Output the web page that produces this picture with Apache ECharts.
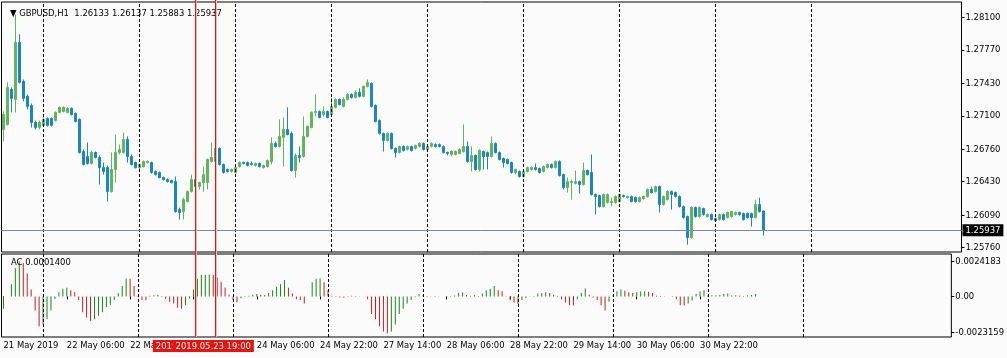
<!DOCTYPE html>
<html><head><meta charset="utf-8">
<script src="https://cdn.jsdelivr.net/npm/echarts@6/dist/echarts.min.js"></script>
<style>html,body{margin:0;padding:0;background:#fbfbfb;}#c{width:1007px;height:358px;}</style>
</head><body><div id="c"></div>
<script>
// ---------- data ----------
const symbolName = 'GBPUSD,H1';
const openPrices = [1.26961,1.27012,1.27368,1.27266,1.27846,1.27449,1.27297,1.27205,1.27032,1.26981,
1.27002,1.27073,1.27073,1.27052,1.27134,1.27144,1.27134,1.27175,1.27124,1.27063,
1.26737,1.26686,1.26615,1.26727,1.26676,1.26574,1.26574,1.26330,1.26554,1.26727,
1.26727,1.26859,1.26686,1.26625,1.26574,1.26585,1.26625,1.26625,1.26534,1.26524,
1.26473,1.26452,1.26442,1.26432,1.26147,1.26127,1.26229,1.26330,1.26452,1.26381,
1.26422,1.26422,1.26635,1.26635,1.26768,1.26605,1.26554,1.26534,1.26524,1.26585,
1.26625,1.26625,1.26615,1.26595,1.26615,1.26574,1.26585,1.26635,1.26819,1.26788,
1.26880,1.26961,1.26920,1.26544,1.26697,1.26686,1.26890,1.26981,1.27134,1.27144,
1.27113,1.27144,1.27113,1.27185,1.27266,1.27195,1.27266,1.27317,1.27286,1.27337,
1.27297,1.27398,1.27429,1.27205,1.27052,1.26920,1.26849,1.26920,1.26768,1.26727,
1.26788,1.26758,1.26788,1.26768,1.26788,1.26819,1.26758,1.26788,1.26808,1.26808,
1.26788,1.26727,1.26707,1.26707,1.26717,1.26737,1.26788,1.26635,1.26697,1.26554,
1.26737,1.26727,1.26686,1.26819,1.26727,1.26666,1.26656,1.26625,1.26524,1.26534,
1.26483,1.26534,1.26554,1.26574,1.26564,1.26534,1.26574,1.26605,1.26574,1.26635,
1.26503,1.26371,1.26422,1.26412,1.26432,1.26402,1.26544,1.26524,1.26300,1.26290,
1.26178,1.26219,1.26219,1.26219,1.26229,1.26290,1.26269,1.26280,1.26269,1.26229,
1.26259,1.26280,1.26351,1.26330,1.26381,1.26198,1.26249,1.26330,1.26320,1.26280,
1.26178,1.26076,1.25863,1.26168,1.26076,1.26158,1.26076,1.26097,1.26056,1.26046,
1.26097,1.26066,1.26076,1.26097,1.26117,1.26107,1.26107,1.26107,1.26066,1.26198,
1.26133];
const closePrices = [1.27113,1.27388,1.27276,1.27846,1.27439,1.27276,1.27195,1.27032,1.26981,1.27032,
1.27063,1.27002,1.27002,1.27134,1.27185,1.27185,1.27175,1.27113,1.27042,1.26727,
1.26605,1.26615,1.26727,1.26676,1.26574,1.26534,1.26330,1.26554,1.26727,1.26758,
1.26859,1.26686,1.26605,1.26574,1.26605,1.26635,1.26635,1.26524,1.26503,1.26473,
1.26452,1.26432,1.26422,1.26127,1.26117,1.26249,1.26330,1.26452,1.26381,1.26422,
1.26503,1.26656,1.26676,1.26768,1.26605,1.26524,1.26534,1.26554,1.26574,1.26625,
1.26615,1.26595,1.26605,1.26615,1.26585,1.26595,1.26646,1.26819,1.26788,1.26890,
1.26961,1.26910,1.26544,1.26697,1.26676,1.26890,1.26991,1.27134,1.27144,1.27083,
1.27144,1.27083,1.27195,1.27266,1.27215,1.27266,1.27317,1.27286,1.27337,1.27297,
1.27398,1.27439,1.27195,1.27042,1.26920,1.26849,1.26920,1.26768,1.26727,1.26788,
1.26747,1.26788,1.26747,1.26798,1.26819,1.26758,1.26788,1.26819,1.26788,1.26788,
1.26727,1.26717,1.26737,1.26737,1.26758,1.26788,1.26635,1.26697,1.26554,1.26747,
1.26686,1.26686,1.26819,1.26727,1.26656,1.26625,1.26615,1.26524,1.26554,1.26483,
1.26534,1.26574,1.26574,1.26554,1.26524,1.26585,1.26605,1.26574,1.26635,1.26493,
1.26371,1.26432,1.26432,1.26432,1.26402,1.26544,1.26503,1.26300,1.26280,1.26178,
1.26300,1.26300,1.26229,1.26280,1.26300,1.26280,1.26280,1.26229,1.26229,1.26269,
1.26280,1.26351,1.26320,1.26381,1.26198,1.26280,1.26330,1.26300,1.26280,1.26178,
1.26066,1.25863,1.26168,1.26076,1.26168,1.26097,1.26097,1.26046,1.26035,1.26097,
1.26046,1.26117,1.26127,1.26117,1.26097,1.26046,1.26066,1.26066,1.26198,1.26127,
1.25937];
const lowPrices = [1.26839,1.27002,1.27134,1.27134,1.27429,1.27246,1.27164,1.26981,1.26961,1.26961,
1.26991,1.26991,1.26991,1.27042,1.27124,1.27134,1.27124,1.27103,1.27032,1.26717,
1.26595,1.26605,1.26605,1.26666,1.26402,1.26503,1.26229,1.26320,1.26422,1.26707,
1.26717,1.26625,1.26595,1.26564,1.26554,1.26574,1.26615,1.26513,1.26493,1.26463,
1.26442,1.26422,1.26412,1.26117,1.26046,1.26046,1.26219,1.26320,1.26371,1.26351,
1.26330,1.26351,1.26625,1.26625,1.26595,1.26513,1.26524,1.26524,1.26513,1.26574,
1.26605,1.26585,1.26595,1.26585,1.26574,1.26564,1.26574,1.26605,1.26778,1.26778,
1.26585,1.26900,1.26534,1.26473,1.26625,1.26676,1.26880,1.26971,1.27093,1.27073,
1.27093,1.27073,1.27103,1.27175,1.27205,1.27185,1.27256,1.27276,1.27276,1.27286,
1.27286,1.27388,1.27185,1.27032,1.26910,1.26737,1.26839,1.26758,1.26676,1.26717,
1.26737,1.26747,1.26737,1.26758,1.26778,1.26747,1.26747,1.26778,1.26778,1.26778,
1.26717,1.26697,1.26686,1.26697,1.26707,1.26727,1.26625,1.26534,1.26544,1.26534,
1.26554,1.26554,1.26676,1.26717,1.26646,1.26574,1.26605,1.26513,1.26503,1.26473,
1.26473,1.26524,1.26544,1.26544,1.26513,1.26524,1.26564,1.26564,1.26564,1.26483,
1.26351,1.26320,1.26249,1.26402,1.26310,1.26391,1.26493,1.26290,1.26097,1.26168,
1.26168,1.26208,1.26178,1.26208,1.26219,1.26269,1.26259,1.26219,1.26219,1.26219,
1.26249,1.26269,1.26310,1.26320,1.26117,1.26188,1.26239,1.26147,1.26269,1.26168,
1.26056,1.25791,1.25852,1.26066,1.26066,1.26086,1.26066,1.26035,1.26025,1.26035,
1.26035,1.26056,1.26066,1.26086,1.26086,1.26035,1.26056,1.25974,1.26056,1.26117,
1.25883];
const highPrices = [1.27144,1.27439,1.27388,1.28130,1.27927,1.27469,1.27317,1.27225,1.27052,1.27052,
1.27083,1.27083,1.27083,1.27144,1.27195,1.27195,1.27185,1.27185,1.27134,1.27073,
1.26758,1.26829,1.26747,1.26737,1.26697,1.26625,1.26595,1.26727,1.26910,1.26808,
1.26930,1.26890,1.26707,1.26635,1.26615,1.26646,1.26646,1.26635,1.26544,1.26534,
1.26483,1.26463,1.26452,1.26483,1.26168,1.26269,1.26341,1.26503,1.26463,1.26432,
1.26585,1.26666,1.26829,1.26788,1.26778,1.26615,1.26564,1.26564,1.26585,1.26635,
1.26635,1.26635,1.26635,1.26625,1.26625,1.26605,1.26656,1.26880,1.26839,1.27063,
1.27083,1.27185,1.26941,1.26717,1.26788,1.27093,1.27002,1.27144,1.27317,1.27154,
1.27195,1.27154,1.27286,1.27276,1.27276,1.27286,1.27327,1.27327,1.27358,1.27378,
1.27408,1.27469,1.27439,1.27215,1.27063,1.26930,1.26930,1.26930,1.26778,1.26798,
1.26798,1.26798,1.26798,1.26808,1.26829,1.26829,1.26798,1.26829,1.26819,1.26819,
1.26798,1.26737,1.26747,1.26747,1.26768,1.27012,1.26839,1.26788,1.26707,1.26758,
1.26747,1.26737,1.26890,1.26829,1.26737,1.26676,1.26666,1.26635,1.26564,1.26544,
1.26554,1.26585,1.26585,1.26615,1.26574,1.26595,1.26615,1.26615,1.26646,1.26646,
1.26513,1.26473,1.26452,1.26544,1.26442,1.26625,1.26554,1.26707,1.26310,1.26300,
1.26310,1.26310,1.26269,1.26290,1.26310,1.26300,1.26290,1.26290,1.26280,1.26280,
1.26290,1.26361,1.26381,1.26391,1.26391,1.26290,1.26341,1.26341,1.26330,1.26290,
1.26188,1.26086,1.26178,1.26178,1.26178,1.26168,1.26107,1.26107,1.26066,1.26107,
1.26107,1.26127,1.26137,1.26127,1.26127,1.26117,1.26117,1.26117,1.26249,1.26269,
1.26137];
const acValues = [-0.0007,0.0000,0.0007,0.0016,0.0020,0.0019,0.0013,0.0004,-0.0008,-0.0017,
-0.0016,-0.0013,-0.0008,-0.00015,0.00024,0.00043,0.0005,0.00035,0.00024,-0.0002,
-0.0009,-0.0012,-0.0014,-0.0013,-0.0011,-0.0009,-0.0006,-0.0005,-0.0002,0.0002,
0.0006,0.00102,0.0010,0.0006,-0.00005,-0.0002,-0.00022,0.00003,0.00006,0.0001,
0.00002,-0.00015,-0.0003,-0.0004,-0.00065,-0.0007,-0.0005,-0.0001,0.0004,0.0010,
0.00123,0.00124,0.00125,0.00122,0.00108,0.00084,0.00051,0.0001,-0.0002,-0.00034,
-0.0001,-0.00003,0.00004,0.0001,0.00014,0.0001,0.00008,0.0002,0.00035,0.00055,
0.0007,0.00093,0.0005,0.00016,-0.00016,-0.0002,-0.0004,0.0000,0.0008,0.0010,
0.00102,0.0008,0.00035,0.00003,-0.00004,-0.00006,-0.00008,-0.00004,0.00004,0.00002,
0.00001,0.0000,-0.00016,-0.0010,-0.0013,-0.0017,-0.0020,-0.0021,-0.0020,-0.0016,
-0.0010,-0.0007,-0.0004,-0.0002,-0.00005,0.00014,0.00005,0.00002,0.00001,0.00002,
0.00001,0.0000,0.00001,-0.00003,0.00005,0.0002,0.00022,0.00008,0.00004,0.00006,
0.00002,0.00016,0.00035,0.00043,0.0006,0.00035,0.0003,0.00001,-0.0002,-0.00035,
-0.00045,-0.0002,-0.0001,-0.00002,-0.00004,0.00016,0.0002,0.00024,0.0002,0.0001,
-0.00003,-0.00016,-0.00035,-0.0005,-0.00052,-0.00016,0.0002,0.00045,0.0001,-0.00006,
-0.0002,-0.0005,-0.0008,-0.0003,0.00005,0.0003,0.0004,0.00032,0.00024,0.0002,
0.00024,0.00028,0.0003,0.00026,0.0002,0.00004,0.00002,0.00001,-0.00001,-0.00003,
-0.00016,-0.0005,-0.00052,-0.0004,-0.00024,0.00014,0.0003,0.00035,0.00005,0.00006,
0.00007,0.00008,0.00014,0.00016,0.00005,0.00006,0.00004,0.00002,0.00005,0.00008,
0.00014];
const acScale = {max: 0.0024183, min: -0.0023159};
const acTickLabels = ['0.0024183', '0.00', '-0.0023159'];
const acTickValues = [0.00198, 0, -0.00207];
const priceTickValues = [1.28100, 1.27770, 1.27430, 1.27100, 1.26760, 1.26430, 1.26090, 1.25760];
const priceRange = {min: 1.257164, max: 1.282554};
const tickLabels = ['21 May 2019','22 May 06:00','22 May 22:00','23 May 14:00','24 May 06:00','24 May 22:00',
  '27 May 14:00','28 May 06:00','28 May 22:00','29 May 14:00','30 May 06:00','30 May 22:00'];
const barsPerLabel = 16;
const totalSlots = 240;            // bars + empty space on the right
const dayStartBars = [10, 34, 58, 82, 106, 130, 154, 178, 202];
const markedBars = [48, 53];
const markedLabels = ['2019.05.23 14:00', '2019.05.23 19:00'];

// ---------- chart ----------
const FONT = '"DejaVu Sans Condensed", "Liberation Sans", Arial, sans-serif';
const FS = 9.4;
const BULL = '#5fb65b', BEAR = '#1a86c4';
const AC_UP = '#138a13', AC_DN = '#c81e1e';
const RED = '#e8130f';
const categories = Array.from({length: totalSlots}, (_, i) => String(i));
const candleData = openPrices.map((o, i) => [o, closePrices[i], lowPrices[i], highPrices[i]]);
const acData = acValues.map((v, i) => ({
  value: v,
  itemStyle: {color: (i === 0 || v >= acValues[i - 1]) ? AC_UP : AC_DN}
}));
const last = closePrices.length - 1;
const titleText = '\u25BC ' + symbolName + '  ' + [openPrices[last], highPrices[last], lowPrices[last], closePrices[last]].map(v => v.toFixed(5)).join(' ');
const acTitle = 'AC ' + acValues[last].toFixed(7);

const dayLineData = dayStartBars.map(b => ({xAxis: b}));
const labelShown = (idx) => idx % barsPerLabel === 0 && idx / barsPerLabel < tickLabels.length;
const baseML = {silent: true, symbol: ['none', 'none'], animation: false, precision: 6, label: {show: false}};

const chart = echarts.init(document.getElementById('c'), null, {renderer: 'canvas'});
chart.setOption({
  animation: false,
  backgroundColor: '#fbfbfb',
  textStyle: {fontFamily: FONT},
  title: [
    {text: titleText, left: 5, top: 4, textStyle: {fontSize: FS, fontWeight: 'normal', color: '#000', fontFamily: FONT}},
    {text: acTitle, left: 6, top: 253, textStyle: {fontSize: FS, fontWeight: 'normal', color: '#000', fontFamily: FONT}}
  ],
  grid: [
    {left: 1.5, top: 2, width: 960, height: 250, show: true, borderColor: '#000', borderWidth: 1, backgroundColor: 'transparent'},
    {left: 1.5, top: 254, width: 960, height: 83, show: true, borderColor: '#000', borderWidth: 1, backgroundColor: 'transparent'}
  ],
  xAxis: [
    {type: 'category', gridIndex: 0, data: categories, axisLine: {show: false}, axisTick: {show: false}, axisLabel: {show: false}, splitLine: {show: false}},
    {type: 'category', gridIndex: 1, data: categories, axisLine: {show: false},
      axisTick: {show: true, alignWithLabel: true, interval: (i) => labelShown(i), length: 3, lineStyle: {color: '#000'}},
      axisLabel: {show: true, interval: (i) => labelShown(i), align: 'left', margin: 4, fontSize: FS, color: '#000', fontFamily: FONT,
        formatter: (v, i) => tickLabels[Math.round(i / barsPerLabel)] || ''},
      splitLine: {show: false}}
  ],
  yAxis: [
    {type: 'value', gridIndex: 0, position: 'right', min: priceRange.min, max: priceRange.max,
      splitLine: {show: false}, axisLine: {show: false},
      axisTick: {show: true, customValues: priceTickValues, length: 3, lineStyle: {color: '#000'}},
      axisLabel: {show: true, customValues: priceTickValues, margin: 4, fontSize: FS, color: '#000', fontFamily: FONT, formatter: (v) => v.toFixed(5)}},
    {type: 'value', gridIndex: 1, position: 'right', min: acScale.min, max: acScale.max,
      splitLine: {show: false}, axisLine: {show: false},
      axisTick: {show: true, customValues: acTickValues, length: 3, lineStyle: {color: '#000'}},
      axisLabel: {show: true, customValues: acTickValues, margin: 4, fontSize: FS, color: '#000', fontFamily: FONT,
        formatter: (v) => acTickLabels[acTickValues.findIndex(t => Math.abs(t - v) < 1e-9)]}}
  ],
  series: [
    {
      name: 'price', type: 'candlestick', xAxisIndex: 0, yAxisIndex: 0, data: candleData, barWidth: 2,
      itemStyle: {color: BULL, color0: BEAR, borderColor: BULL, borderColor0: BEAR, borderWidth: 1},
      markLine: {...baseML, lineStyle: {color: '#000', type: [3, 2], width: 1}, data: dayLineData}
    },
    {
      name: 'bid', type: 'line', xAxisIndex: 0, yAxisIndex: 0, data: [], showSymbol: false,
      itemStyle: {color: '#7a8899'},
      markLine: {...baseML, lineStyle: {color: '#7a8899', type: 'solid', width: 1},
        label: {show: true, position: 'end', distance: 1, formatter: closePrices[last].toFixed(5),
          backgroundColor: '#000', color: '#fff', padding: [2, 3, 1, 3], fontSize: FS, fontFamily: FONT},
        data: [{yAxis: closePrices[last]}]}
    },
    {
      name: 'AC', type: 'bar', xAxisIndex: 1, yAxisIndex: 1, data: acData, barWidth: 1,
      markLine: {...baseML, lineStyle: {color: '#000', type: [3, 2], width: 1}, data: dayLineData}
    },
    {
      name: 'acMarks', type: 'line', xAxisIndex: 1, yAxisIndex: 1, data: [], showSymbol: false,
      itemStyle: {color: RED}, z: 10,
      markLine: {...baseML, lineStyle: {color: 'rgba(0,0,0,0)', type: 'solid', width: 1},
        label: {show: true, position: 'start', distance: 3,
          backgroundColor: RED, color: '#fff', padding: [2, 3, 1, 3], fontSize: FS, fontFamily: FONT},
        data: markedBars.map((b, k) => ({xAxis: b, label: {formatter: markedLabels[k]}}))}
    }
  ]
});

// red vertical object lines through both panes, positioned by the library's scales
const yTop = chart.convertToPixel({yAxisIndex: 0}, priceRange.max);
const yBot = chart.convertToPixel({yAxisIndex: 1}, acScale.min);
const redGraphics = [];
markedBars.forEach(b => {
  const x = Math.floor(chart.convertToPixel({xAxisIndex: 0}, b)) + 0.5;
  redGraphics.push({type: 'line', z: 50, silent: true,
    shape: {x1: x + 1, y1: yTop - 2, x2: x + 1, y2: yBot},
    style: {stroke: '#f6b8b6', lineWidth: 1}});
  redGraphics.push({type: 'line', z: 51, silent: true,
    shape: {x1: x, y1: yTop - 2, x2: x, y2: yBot},
    style: {stroke: RED, lineWidth: 1}});
});
chart.setOption({graphic: redGraphics});
</script>
</body></html>
